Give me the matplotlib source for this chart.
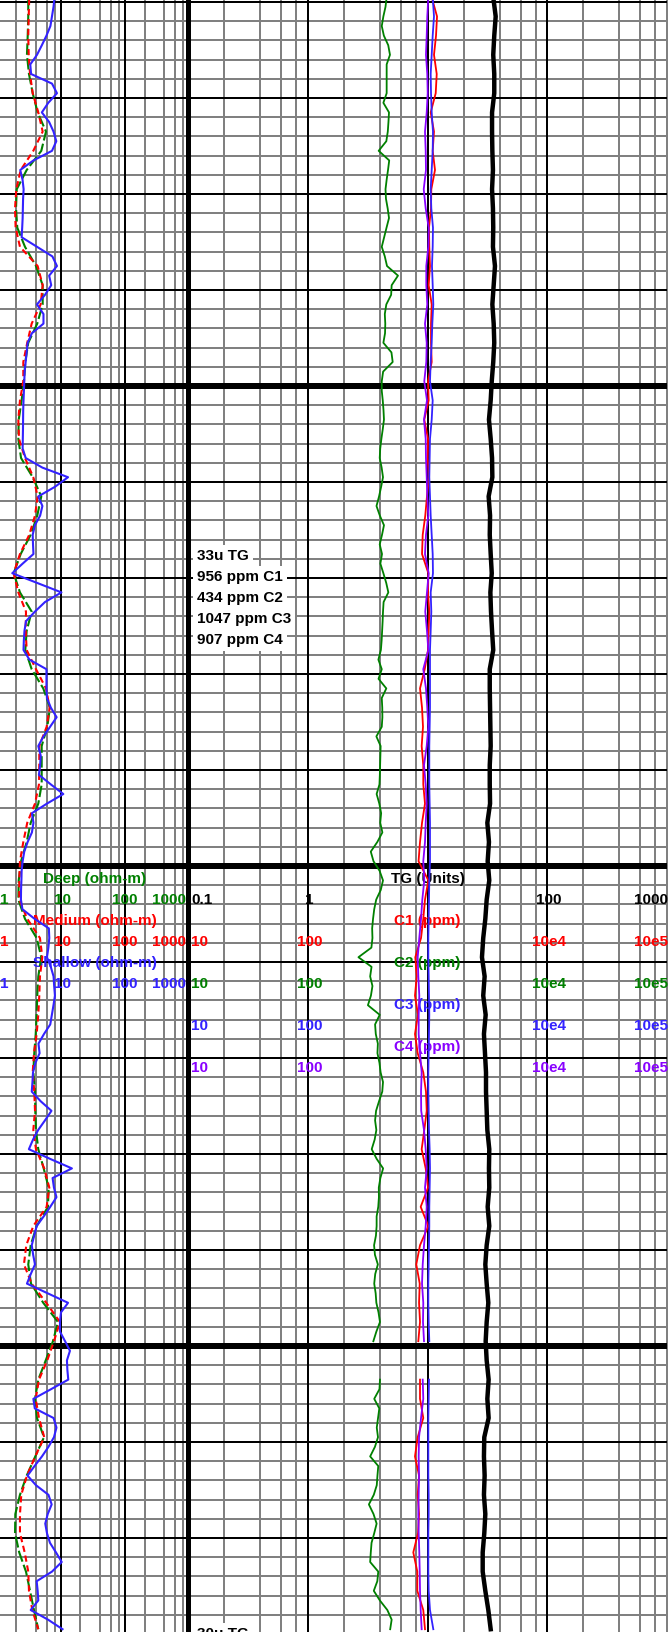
import numpy as np
import matplotlib
matplotlib.use('Agg')
import matplotlib.pyplot as plt

plt.rcParams['font.family'] = ['Liberation Sans', 'DejaVu Sans']
plt.rcParams['font.weight'] = 'bold'
plt.rcParams['font.size'] = 11

nan = np.nan
# depths (ft): shallow resistivity and C2 read every foot, the rest every 2 ft
depth_1ft = np.arange(5009.5, 5180.0, 1.0)
depth_2ft = np.arange(5009.5, 5180.0, 2.0)

# resistivity, ohm-m
shallow = [7.9, 7.6, 7.2, 6.8, 5.9, 5.0, 4.2, 3.3, 3.4, 7.2,
           8.6, 6.3, 5.0, 6.5, 7.6, 8.4, 7.2, 3.7, 2.3, 2.5,
           2.6, 2.55, 2.53, 2.51, 2.47, 2.42, 4.2, 7.3, 8.6, 6.5,
           7.0, 5.6, 4.2, 5.3, 5.3, 3.5, 3.0, 2.9, 2.8, 2.7,
           2.66, 2.62, 2.59, 2.56, 2.55, 2.54, 2.52, 2.51, 2.8, 5.1,
           12.8, 8.0, 4.4, 5.1, 4.7, 3.9, 3.6, 3.64, 3.7, 2.51,
           1.73, 4.2, 10.1, 5.6, 3.9, 2.83, 2.68, 2.62, 2.59, 3.2,
           5.9, 5.9, 5.9, 6.0, 6.9, 8.5, 6.7, 5.3, 4.4, 4.8,
           4.7, 4.5, 6.9, 10.8, 6.0, 3.5, 3.7, 3.5, 3.0, 2.66,
           2.51, 2.42, 2.40, 2.37, 2.36, 2.49, 3.85, 6.43, 6.53, 6.32,
           6.01, 6.89, 7.61, 7.78, 8.0, 7.59, 7.16, 6.76, 5.40, 4.43,
           4.61, 3.98, 3.64, 3.57, 3.48, 4.79, 7.06, 5.59, 4.38, 3.64,
           3.14, 6.69, 14.7, 7.35, 7.72, 8.45, 6.76, 5.34, 4.15, 3.80,
           3.48, 3.66, 3.91, 3.36, 2.93, 6.14, 12.8, 9.93, 9.58, 9.58,
           11.5, 13.7, 12.3, 12.5, 12.9, 6.94, 3.69, 3.88, 7.61, 8.45,
           7.72, 6.34, 5.02, 3.85, 2.99, 4.05, 6.34, 7.11, 6.18, 5.65,
           6.01, 6.69, 8.30, 10.2, 7.19, 4.15, 4.30, 4.40, 3.35, 6.23,
           10.5]
deep = [3.07, 3.07, 3.01, 2.93, 3.15, 3.60, 4.30, 5.80, 4.90, 2.90,
        2.03, 1.98, 2.07, 2.73, 4.05, 5.15, 5.15, 4.24, 3.07, 2.76,
        2.63, 2.42, 2.18, 2.15, 2.37, 3.60, 4.90, 4.24, 3.35, 2.34,
        1.82, 2.28, 3.47, 2.90, 2.76, 3.47, 5.26, 6.69, 6.07, 4.97,
        4.97, 4.97, 4.40, 3.35, 2.90, 2.37, 2.18, 2.15, 2.73, 4.15,
        4.90, 4.40, 4.24, 4.15, 4.01, 3.81, 3.68, 3.91, 3.95, 4.05,
        4.40, 5.34, 6.38, 6.23, 4.15, 3.35, 3.07, 3.39, 5.26, 8.91,
        7.45, 5.74, 4.40, 3.91, 4.20, 5.40, 3.95, 2.90, 2.28, 1.93,
        1.91, 2.22, 2.83, 3.27, 3.77, 4.40]
medium = [3.18, 3.12, 3.07, 3.12, 3.27, 3.60, 4.40, 5.15, 3.68, 2.34,
          2.00, 1.91, 1.95, 2.28, 4.30, 5.15, 4.79, 3.47, 2.96, 2.57,
          2.57, 2.28, 2.15, 2.20, 2.73, 3.68, 4.30, 3.91, 3.18, 2.28,
          1.82, 2.15, 2.83, 2.80, 2.90, 4.05, 5.80, 6.62, 5.94, 4.56,
          4.56, 4.51, 3.91, 2.96, 2.57, 2.28, 2.22, 2.22, 2.96, 4.67,
          5.08, 4.67, 4.56, 4.40, 4.15, 3.77, 3.60, 3.81, 3.91, 3.68,
          4.05, 5.45, 6.53, 5.94, 3.68, 2.86, 2.63, 3.47, 5.86, 9.58,
          7.72, 6.07, 4.51, 4.01, 4.51, 5.45, 3.95, 2.93, 2.39, 2.28,
          2.28, 2.70, 3.07, 3.15, 3.55, 4.40]

# total gas, units
tg = [35.4, 37.1, 36.1, 35.4, 36.1, 36.1, 34.6, 34.6, 34.8, 35.2,
      34.6, 35.2, 35.4, 35.2, 36.6, 35.7, 34.8, 35.7, 36.1, 35.4,
      34.4, 33.7, 32.6, 33.7, 34.6, 34.8, 32.4, 33.3, 33.1, 33.7,
      34.4, 33.5, 33.9, 34.6, 35.4, 33.1, 33.1, 33.3, 33.5, 33.7,
      33.1, 33.1, 33.3, 31.6, 32.6, 31.8, 32.8, 31.2, 30.4, 29.2,
      28.5, 30.0, 29.2, 30.6, 29.6, 30.2, 30.8, 30.8, 31.2, 31.6,
      32.8, 32.6, 32.8, 31.8, 32.8, 31.2, 30.4, 31.2, 32.2, 31.2,
      30.6, 31.2, 32.4, 31.6, 32.4, 29.8, 29.6, 30.0, 29.6, 30.4,
      29.8, 28.9, 28.9, 30.4, 32.2, 33.7]

# chromatograph, ppm
c1 = [1084, 1201, 1178, 1133, 1194, 1171, 1063, 1133, 1105, 1155,
      1076, 1070, 1029, 1035, 1049, 1023, 1084, 1070, 1070, 1084,
      1010, 1023, 940, 1010, 1004, 1029, 990, 958, 912, 900,
      1016, 1010, 1035, 1023, 1010, 948, 866, 900, 917, 894,
      922, 922, 953, 900, 866, 842, 1016, 953, 922, 883,
      791, 813, 786, 833, 786, 828, 922, 971, 985, 940,
      894, 966, 1010, 877, 1016, 866, 806, 861, 850, 866,
      838, nan, 866, 866, 922, 828, 786, 850, 828, 850,
      833, 761, 822, 822, 922, 953]
c2 = [456, 446, 428, 415, 432, 470, 486, 456, 456, 456,
      456, 428, 477, 472, 466, 453, 391, 479, 468, 456,
      446, 450, 465, 477, 455, 435, 415, 440, 459, 567,
      502, 497, 453, 440, 444, 442, 428, 500, 512, 426,
      415, 415, 423, 429, 433, 423, 412, 403, 399, 414,
      425, 410, 394, 375, 400, 433, 417, 399, 417, 404,
      428, 452, 471, 430, 425, 422, 418, 414, 408, 389,
      415, 390, 453, 415, 419, 420, 415, 374, 406, 404,
      402, 400, 397, 376, 396, 410, 403, 420, 381, 336,
      354, 398, 425, 407, 373, 359, 351, 345, 347, 340,
      265, 341, 332, 347, 337, 318, 399, 365, 370, 385,
      382, 397, 406, 425, 419, 394, 372, 365, 374, 362,
      342, 376, 426, 404, 392, 393, 388, 376, 376, 371,
      358, 364, 385, 366, 359, 369, 374, 390, 401, 374,
      353, nan, nan, nan, 401, 397, 359, 396, 386, 377,
      386, 364, 332, 388, 382, 377, 356, 324, 354, 376,
      359, 341, 336, 332, 388, 381, 356, 400, 462, 502,
      488]
c3 = [1105, 1133, 1105, 1084, 1063, 1070, 1084, 1111, 1105, 1084,
      1063, 1076, 1111, 1105, 1090, 1105, 1118, 1097, 1084, 1063,
      1049, 1105, 1084, 1049, 1042, 1035, 1049, 1063, 1084, 1105,
      1111, 1063, 1076, 1063, 1049, 1049, 1049, 1049, 1042, 1035,
      1035, 1035, 1042, 1049, 1049, 1049, 1035, 1029, 1023, 1016,
      1016, 1023, 1029, 1035, 1029, 1023, 1016, 1016, 1023, 1029,
      1042, 1049, 1042, 1035, 1035, 1029, 1023, 1016, 1016, 1023,
      1035, nan, 1029, 1023, 1016, 1016, 1016, 1016, 1023, 1023,
      1016, 1016, 1016, 1023, 1049, 1118]
c4 = [1016, 996, 985, 971, 996, 1004, 985, 953, 966, 971,
      930, 966, 1023, 1016, 977, 977, 996, 953, 985, 977,
      940, 990, 935, 966, 971, 985, 996, 1016, 971, 953,
      1023, 990, 958, 990, 1016, 922, 971, 996, 1016, 985,
      935, 966, 985, 966, 953, 922, 940, 905, 883, 854,
      828, 838, 854, 844, 844, 866, 894, 883, 886, 935,
      966, 985, 953, 985, 966, 935, 912, 900, 922, 917,
      935, nan, 912, 922, 883, 850, 844, 850, 844, 838,
      844, 854, 861, 866, 877, 894]

gas_note = ['33u TG', '956 ppm C1', '434 ppm C2', '1047 ppm C3', '907 ppm C4']
gas_note2 = ['30u TG']
res_ticks = ['1', '10', '100', '1000']
tg_ticks = ['0.1', '1', '100', '1000']
gas_ticks = ['10', '100', '10e4', '10e5']

TOP, BOT = 5009.79, 5179.79
GRAY = '#808080'
GREEN, RED, BLUE, PURPLE = '#008000', '#ff0000', '#3322ff', '#8800ff'

W = 670.0
fig = plt.figure(figsize=(6.7, 16.32), dpi=100)
ax_res = fig.add_axes([-3 / W, 0, 192.5 / W, 1])
ax_tg = fig.add_axes([188 / W, 0, 479 / W, 1])
ax_gas = ax_tg.twiny()

for ax, lims in ((ax_res, (1, 1000)), (ax_tg, (0.1, 1000)),
                 (ax_gas, (10, 1e5))):
    ax.set_xscale('log')
    ax.set_xlim(*lims)
    ax.set_ylim(BOT, TOP)
    ax.set_axis_off()

# crisp, pixel-snapped grid like the original log print
grid_kw = dict(antialiased=False)


def log_grid(ax, decades, black):
    for d in decades[:-1]:
        for m in (2, 4, 6, 8):
            ax.axvline(d * m, color=GRAY, lw=1.44, zorder=1, **grid_kw)
    for d in black:
        ax.axvline(d, color='black', lw=1.44, zorder=2, **grid_kw)
    for z in np.arange(5010, 5180, 2):
        if z % 50 == 0:
            ax.axhline(z, color='black', lw=2.9, zorder=3, **grid_kw)
        elif z % 10 == 0:
            ax.axhline(z, color='black', lw=1.44, zorder=2, **grid_kw)
        else:
            ax.axhline(z, color=GRAY, lw=1.44, zorder=1, **grid_kw)


log_grid(ax_res, [1, 10, 100, 1000], [10, 100])
log_grid(ax_tg, [0.1, 1, 10, 100, 1000], [1, 10, 100])
ax_tg.axvline(1000, color=GRAY, lw=1.44, zorder=1, clip_on=False, **grid_kw)
ax_tg.axvline(0.1, color='black', lw=2.4, zorder=3, clip_on=False, **grid_kw)

# repeated header block below the 5100 ft line
hdr = 5101.35 + 2.1875 * np.arange(10)
res_names = [('Deep (ohm-m)', GREEN), ('Medium (ohm-m)', RED),
             ('Shallow (ohm-m)', BLUE)]
for k, (name, col) in enumerate(res_names):
    ax_res.text(33.6, hdr[2 * k], name, color=col, ha='center',
                va='center', zorder=4)
    row = hdr[2 * k + 1]
    ax_res.text(1.11, row, res_ticks[0], color=col, ha='left', va='center', zorder=4)
    ax_res.text(10.5, row, res_ticks[1], color=col, ha='center', va='center', zorder=4)
    ax_res.text(97, row, res_ticks[2], color=col, ha='center', va='center', zorder=4)
    ax_res.text(880, row, res_ticks[3], color=col, ha='right', va='center', zorder=4)

ax_tg.text(10, hdr[0], 'TG (Units)', color='black', ha='center', va='center', zorder=4)
ax_tg.text(0.106, hdr[1], tg_ticks[0], ha='left', va='center', zorder=4)
ax_tg.text(1.03, hdr[1], tg_ticks[1], ha='center', va='center', zorder=4)
ax_tg.text(102, hdr[1], tg_ticks[2], ha='center', va='center', zorder=4)
ax_tg.text(1010, hdr[1], tg_ticks[3], ha='right', va='center', zorder=4)

gas_names = [('C1', RED), ('C2', GREEN), ('C3', BLUE), ('C4', PURPLE)]
for k, (name, col) in enumerate(gas_names):
    ax_gas.text(1000, hdr[2 + 2 * k], name + ' (ppm)', color=col,
                ha='center', va='center', zorder=3)
    row = hdr[3 + 2 * k]
    ax_gas.text(10.6, row, gas_ticks[0], color=col, ha='left', va='center', zorder=3)
    ax_gas.text(103, row, gas_ticks[1], color=col, ha='center', va='center', zorder=3)
    ax_gas.text(1.04e4, row, gas_ticks[2], color=col, ha='center', va='center', zorder=3)
    ax_gas.text(1.01e5, row, gas_ticks[3], color=col, ha='right', va='center', zorder=3)

# gas readout boxes (pad closes the gaps between rows)
box = dict(facecolor='white', edgecolor='none', pad=3.0)
for k, s in enumerate(gas_note):
    ax_tg.text(0.119, 5067.7 + 2.1875 * k, s, ha='left', va='center',
               bbox=box, zorder=4)
for k, s in enumerate(gas_note2):
    ax_tg.text(0.119, 5180.0 + 2.1875 * k, s, ha='left', va='center',
               bbox=box, zorder=4)

# curves
ax_res.plot(deep, depth_2ft, color=GREEN, lw=1.5, ls=(0, (5.5, 1.6)), zorder=5)
ax_res.plot(medium, depth_2ft, color=RED, lw=1.5, ls=(0, (3, 1.8)), zorder=5)
ax_res.plot(shallow, depth_1ft, color=BLUE, lw=1.5, zorder=6)

ax_tg.plot(tg, depth_2ft, color='black', lw=3.2, zorder=5)
ax_gas.plot(c2, depth_1ft, color=GREEN, lw=1.3, zorder=5)
ax_gas.plot(c1, depth_2ft, color=RED, lw=1.3, zorder=5)
ax_gas.plot(c4, depth_2ft, color=PURPLE, lw=1.3, zorder=5)
ax_gas.plot(c3, depth_2ft, color=BLUE, lw=1.3, zorder=5)

fig.savefig('out.png', dpi=100)
